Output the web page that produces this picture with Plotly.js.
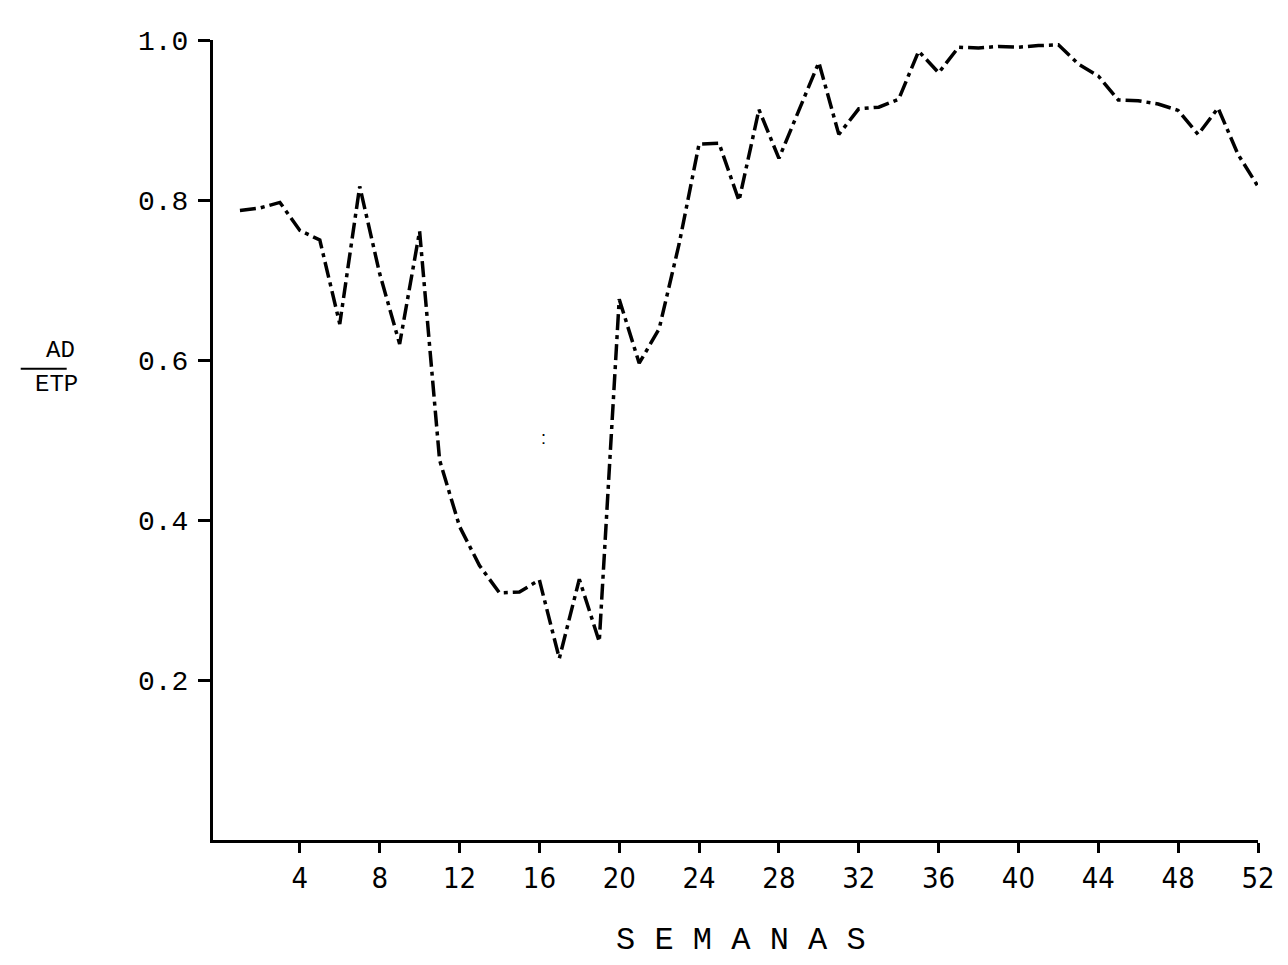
<!DOCTYPE html>
<html>
<head>
<meta charset="utf-8">
<script src="https://cdn.plot.ly/plotly-3.0.1.min.js"></script>
<style>html,body{margin:0;padding:0;background:#fff;}#chart{width:1288px;height:965px;}</style>
</head>
<body>
<div id="chart"></div>
<script>
// Weeks (semanas) and AD/ETP ratio values
const semanas = [1,2,3,4,5,6,7,8,9,10,11,12,13,14,15,16,17,18,19,20,21,22,23,24,25,26,
  27,28,29,30,31,32,33,34,35,36,37,38,39,40,41,42,43,44,45,46,47,48,49,50,51,52];
const adEtp = [0.787,0.790,0.797,0.762,0.750,0.645,0.817,0.708,0.620,0.761,0.475,0.392,0.343,
  0.309,0.310,0.325,0.227,0.326,0.248,0.676,0.596,0.639,0.745,0.870,0.871,0.799,
  0.913,0.852,0.912,0.972,0.882,0.914,0.916,0.926,0.986,0.959,0.991,0.990,0.992,
  0.991,0.993,0.994,0.970,0.955,0.925,0.924,0.920,0.912,0.882,0.915,0.857,0.817];
const xTickVals = [4,8,12,16,20,24,28,32,36,40,44,48,52];
const xTickText = ['4','8','12','16','20','24','28','32','36','40','44','48','52'];
const yTickVals = [0.2,0.4,0.6,0.8,1.0];
const yTickText = ['0.2','0.4','0.6','0.8','1.0'];

const trace = {
  x: semanas, y: adEtp, type: 'scatter', mode: 'lines',
  line: {color: '#000', width: 3.5, dash: '16px,5px,4px,5px'},
  cliponaxis: false, hoverinfo: 'skip'
};

const layout = {
  width: 1288, height: 965,
  margin: {l: 213, r: 30, t: 40, b: 125},
  paper_bgcolor: '#fff', plot_bgcolor: '#fff',
  showlegend: false,
  xaxis: {
    range: [-0.35, 52], showgrid: false, zeroline: false,
    showline: true, linecolor: '#000', linewidth: 3,
    tickmode: 'array', tickvals: xTickVals, ticktext: xTickText,
    ticks: 'outside', ticklen: 10, tickwidth: 3, tickcolor: '#000',
    tickfont: {family: 'Liberation Sans Narrow, DejaVu Sans Condensed, sans-serif', size: 29, color: '#000'},
    ticklabelstandoff: 0
  },
  yaxis: {
    range: [0, 1.0], showgrid: false, zeroline: false,
    showline: true, linecolor: '#000', linewidth: 3,
    tickmode: 'array', tickvals: yTickVals, ticktext: yTickText,
    ticks: 'outside', ticklen: 12, tickwidth: 3, tickcolor: '#000',
    tickfont: {family: 'Liberation Mono, DejaVu Sans Mono, monospace', size: 28, color: '#000'},
    ticklabelstandoff: 4
  },
  annotations: [
    {xref: 'paper', yref: 'paper', x: -0.162, y: 0.612, text: 'AD', showarrow: false,
     font: {family: 'Liberation Mono, monospace', size: 24, color: '#000'}},
    {xref: 'paper', yref: 'paper', x: -0.172, y: 0.57, text: 'ETP', showarrow: false,
     font: {family: 'Liberation Mono, monospace', size: 24, color: '#000'}},
    {xref: 'paper', yref: 'paper', x: 0.505, y: -0.125, yanchor: 'middle', text: 'S E M A N A S', showarrow: false,
     font: {family: 'Liberation Mono, monospace', size: 32, color: '#000'}},
    {xref: 'paper', yref: 'paper', x: 0.312, y: 0.503, text: ':', showarrow: false,
     font: {family: 'Liberation Sans, sans-serif', size: 18, color: '#000'}}
  ],
  shapes: [
    {type: 'line', xref: 'paper', yref: 'paper', x0: -0.184, x1: -0.14, y0: 0.589, y1: 0.589,
     line: {color: '#000', width: 2}}
  ]
};

Plotly.newPlot('chart', [trace], layout, {staticPlot: true, displayModeBar: false});
</script>
</body>
</html>
